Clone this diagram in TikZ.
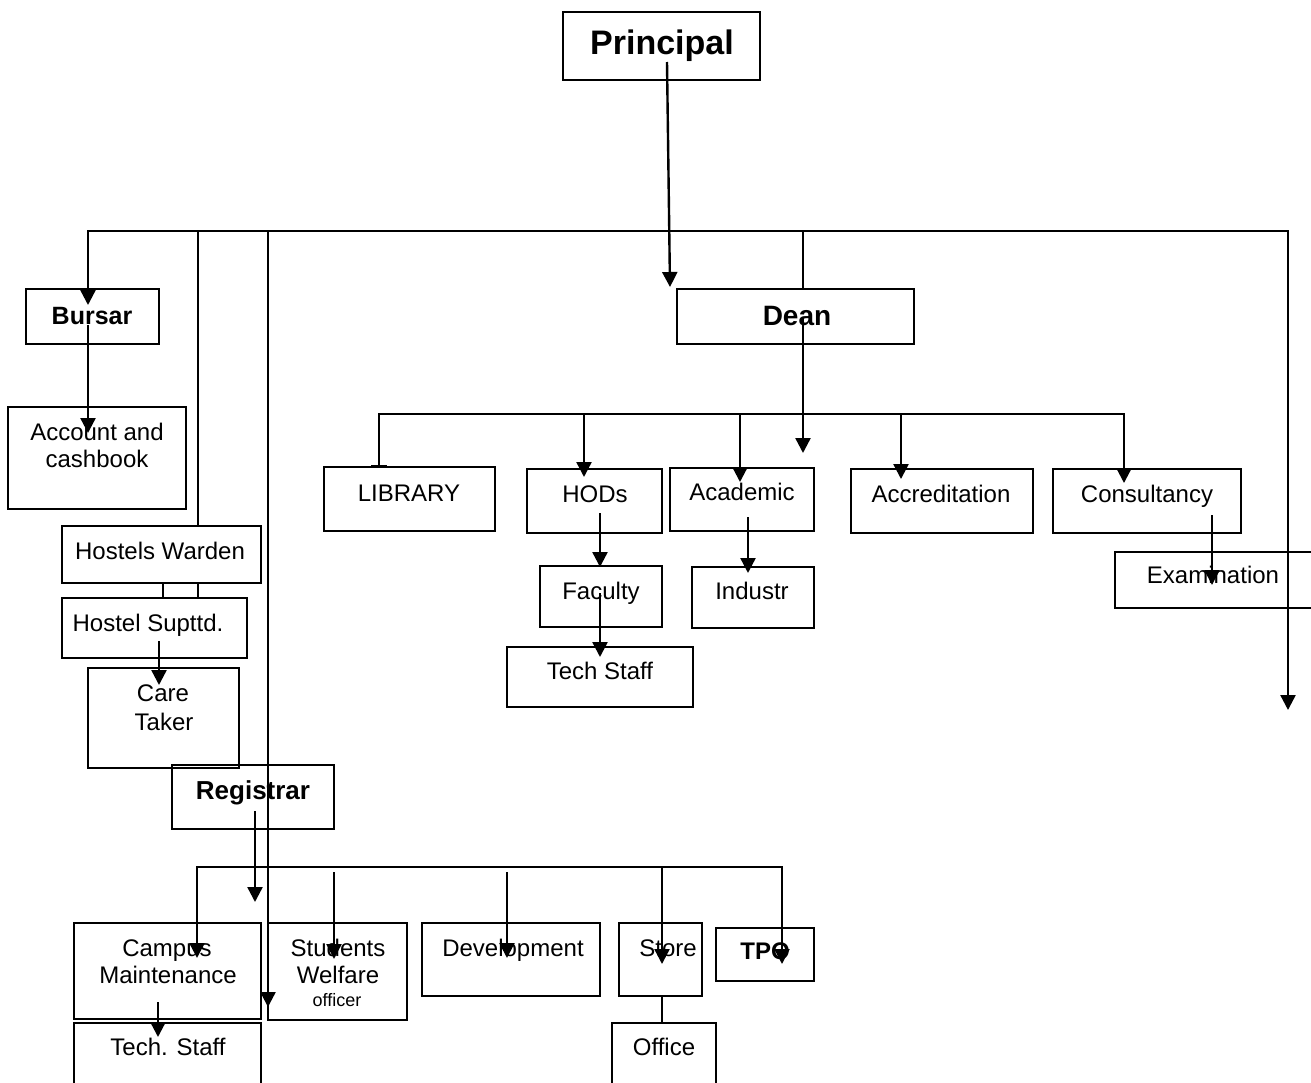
\documentclass[tikz,border=0pt]{standalone}
\usepackage{fontspec}
\setmainfont{Liberation Sans}
\usetikzlibrary{arrows.meta}
\begin{document}
\begin{tikzpicture}[x=1pt,y=-1pt,
  box/.style={draw, line width=1.6pt, anchor=north west, inner sep=0pt, outer sep=0pt},
  lbl/.style={anchor=base, inner sep=0pt, font=\fontsize{24}{28}\selectfont},
  blbl/.style={anchor=base, inner sep=0pt, font=\fontsize{25}{30}\selectfont\bfseries},
  conn/.style={line width=2.4pt},
  tipa/.tip={Triangle[length=15pt,width=15pt]},
  arr/.style={conn, -tipa},
]
\useasboundingbox (0,0) rectangle (1311,1082);

% ---------- boxes ----------
\node[box, minimum width=197pt, minimum height=68pt] (principal) at (563,12) {};
\node[box, minimum width=133pt, minimum height=55pt] (bursar) at (26,289) {};
\node[box, minimum width=178pt, minimum height=102pt] (account) at (8,407) {};
\node[box, minimum width=199pt, minimum height=57pt] (warden) at (62,526) {};
\node[box, minimum width=185pt, minimum height=60pt] (supttd) at (62,598) {};
\node[box, minimum width=151pt, minimum height=100pt] (care) at (88,668) {};
\node[box, minimum width=162pt, minimum height=64pt] (registrar) at (172,765) {};
\node[box, minimum width=187pt, minimum height=96pt] (campus) at (74,923) {};
\node[box, minimum width=187pt, minimum height=80pt] (techL) at (74,1023) {};
\node[box, minimum width=139pt, minimum height=97pt] (students) at (268,923) {};
\node[box, minimum width=178pt, minimum height=73pt] (devel) at (422,923) {};
\node[box, minimum width=83pt, minimum height=73pt] (store) at (619,923) {};
\node[box, minimum width=104pt, minimum height=80pt] (office) at (612,1023) {};
\node[box, minimum width=98pt, minimum height=53pt] (tpo) at (716,928) {};
\node[box, minimum width=237pt, minimum height=55pt] (dean) at (677,289) {};
\node[box, minimum width=171pt, minimum height=64pt] (library) at (324,467) {};
\node[box, minimum width=135pt, minimum height=64pt] (hods) at (527,469) {};
\node[box, minimum width=144pt, minimum height=63pt] (academic) at (670,468) {};
\node[box, minimum width=122pt, minimum height=61pt] (faculty) at (540,566) {};
\node[box, minimum width=122pt, minimum height=61pt] (industr) at (692,567) {};
\node[box, minimum width=186pt, minimum height=60pt] (techstaff) at (507,647) {};
\node[box, minimum width=182pt, minimum height=64pt] (accred) at (851,469) {};
\node[box, minimum width=188pt, minimum height=64pt] (consult) at (1053,469) {};
\node[box, minimum width=220pt, minimum height=56pt] (exam) at (1115,552) {};

% ---------- texts ----------
\node[anchor=base, inner sep=0pt, font=\fontsize{34}{40}\selectfont\bfseries] (t-principal) at (662,54) {Principal};
\node[blbl] (t-bursar) at (92,324) {Bursar};
\node[lbl] (t-account1) at (97,440) {Account and};
\node[lbl] (t-account2) at (97,467) {cashbook};
\node[lbl] (t-warden) at (160,559) {Hostels Warden};
\node[lbl] (t-supttd) at (148,631) {Hostel Supttd.};
\node[lbl] (t-care1) at (163,701) {Care};
\node[lbl] (t-care2) at (164,730) {Taker};
\node[blbl, font=\fontsize{26}{30}\selectfont\bfseries] (t-registrar) at (253,799) {Registrar};
\node[lbl] (t-campus1) at (167,956) {Campus};
\node[lbl] (t-campus2) at (168,983) {Maintenance};
\node[lbl] (t-techL) at (168,1055) {Tech. Staff};
\node[lbl] (t-students1) at (338,956) {Students};
\node[lbl] (t-students2) at (338,983) {Welfare};
\node[lbl, font=\fontsize{18}{20}\selectfont] (t-students3) at (337,1006) {officer};
\node[lbl] (t-devel) at (513,956) {Development};
\node[lbl] (t-store) at (668,956) {Store};
\node[blbl, font=\fontsize{24}{28}\selectfont\bfseries] (t-tpo) at (765,959) {TPO};
\node[lbl] (t-office) at (664,1055) {Office};
\node[blbl, font=\fontsize{28}{32}\selectfont\bfseries] (t-dean) at (797,325) {Dean};
\node[lbl] (t-library) at (409,501) {LIBRARY};
\node[lbl] (t-hods) at (595,502) {HODs};
\node[lbl] (t-academic) at (742,500) {Academic};
\node[lbl] (t-faculty) at (601,599) {Faculty};
\node[lbl] (t-industr) at (752,599) {Industr};
\node[lbl] (t-techstaff) at (600,679) {Tech Staff};
\node[lbl] (t-accred) at (941,502) {Accreditation};
\node[lbl] (t-consult) at (1147,502) {Consultancy};
\node[lbl] (t-exam) at (1213,583) {Examination};

% ---------- coordinates ----------
\coordinate (busL) at (88,231);
\coordinate (busR) at (1288,231);
\coordinate (busW) at (198,231);
\coordinate (busV) at (268,231);
\coordinate (busD) at (803,231);

% ---------- top bus ----------
\draw[conn, tipa-tipa] (88,305) -- (busL) -- (busR) -- (1288,710);
\draw[conn] (busW) -- (198,526);
\draw[arr] (busV) -- (268,1007);
\draw[conn] (busD) -- (803,289);
\draw[arr] (667,62) -- (670,287);

% ---------- left column ----------
\draw[arr] (88,325) -- (88,433);
\draw[conn] (163,583) -- (163,598);
\draw[conn] (198,583) -- (198,598);
\draw[arr] (159,641) -- (159,685);
\draw[arr] (255,811) -- (255,902);

% ---------- registrar bus ----------
\draw[conn, tipa-tipa] (197,958) -- (197,867) -- (782,867) -- (782,964);
\draw[arr] (334,872) -- (334,959);
\draw[arr] (507,872) -- (507,958);
\draw[arr] (662,867) -- (662,964);
\draw[arr] (158,1002) -- (158,1037);
\draw[conn] (662,996) -- (662,1023);

% ---------- dean bus ----------
\draw[arr] (803,317) -- (803,453);
\draw[conn, {Bar[width=16pt]}-tipa] (379,467) -- (379,414) -- (1124,414) -- (1124,483);
\draw[arr] (584,414) -- (584,477);
\draw[arr] (740,414) -- (740,482);
\draw[arr] (901,414) -- (901,479);
\draw[arr] (600,513) -- (600,567);
\draw[arr] (600,593) -- (600,657);
\draw[arr] (748,517) -- (748,573);
\draw[arr] (1212,515) -- (1212,585);
\end{tikzpicture}
\end{document}
